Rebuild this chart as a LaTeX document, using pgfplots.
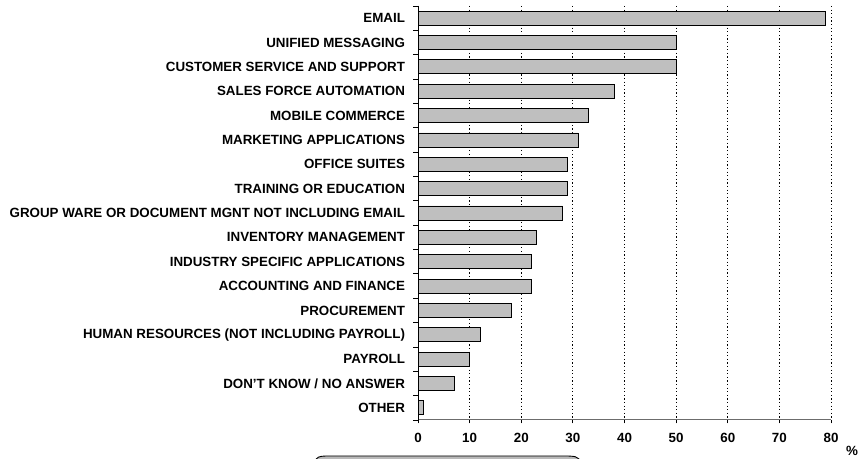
\documentclass[border=0pt]{standalone}
\usepackage{pgfplots}
\pgfplotsset{compat=1.18}
\usepackage{fontspec}
\setmainfont{Liberation Sans}
\begin{document}
\begin{tikzpicture}[x=1bp,y=1bp]
\useasboundingbox (0,0) rectangle (858,459);
\begin{axis}[
  at={(418bp,39bp)}, anchor=south west,
  scale only axis, width=413bp, height=414bp,
  xbar, bar width=14bp,
  xmin=0, xmax=80, ymin=-0.5, ymax=16.5, y dir=reverse,
  axis x line*=bottom, axis y line*=left,
  x axis line style={-, draw=gray!85!black, line width=1bp},
  y axis line style={-, draw=black, line width=0.9bp},
  xtick={0,10,...,80},
  ytick={0,...,16},
  yticklabels={EMAIL,UNIFIED MESSAGING,CUSTOMER SERVICE AND SUPPORT,SALES FORCE AUTOMATION,MOBILE COMMERCE,MARKETING APPLICATIONS,OFFICE SUITES,TRAINING OR EDUCATION,GROUP WARE OR DOCUMENT MGNT NOT INCLUDING EMAIL,INVENTORY MANAGEMENT,INDUSTRY SPECIFIC APPLICATIONS,ACCOUNTING AND FINANCE,PROCUREMENT,HUMAN RESOURCES (NOT INCLUDING PAYROLL),PAYROLL,DON’T KNOW / NO ANSWER,OTHER},
  minor ytick={-0.5,0.5,...,16.5},
  tick align=outside,
  major tick length=3.5bp, minor tick length=5bp,
  ytick style={draw=none},
  minor y tick style={draw=black, line width=0.8bp},
  xtick style={draw=black, line width=0.8bp},
  xmajorgrids,
  major x grid style={black, line width=0.8bp, dash pattern=on 1.2bp off 2.4bp},
  /pgf/number format/assume math mode=true,
  xticklabel style={font=\fontsize{13.4}{15}\selectfont\bfseries, yshift=-6bp},
  yticklabel style={font=\fontsize{13.4}{15}\selectfont\bfseries, anchor=east, xshift=-6bp},
  clip=false,
]
\addplot[fill=gray!50, draw=black, line width=0.8bp] coordinates {
(79,0) (50,1) (50,2) (38,3) (33,4) (31,5) (29,6) (29,7) (28,8) (23,9) (22,10) (22,11) (18,12) (12,13) (10,14) (7,15) (1,16)};
\end{axis}
\node[font=\fontsize{13.4}{15}\selectfont\bfseries] at (852,8) {\%};
\filldraw[fill=gray!55, draw=black, line width=0.9bp] (314,-3) .. controls (318,2.5) .. (326,3) -- (568,3) .. controls (576,2.5) .. (579,0) -- (579,-3) -- cycle;
\end{tikzpicture}
\end{document}
